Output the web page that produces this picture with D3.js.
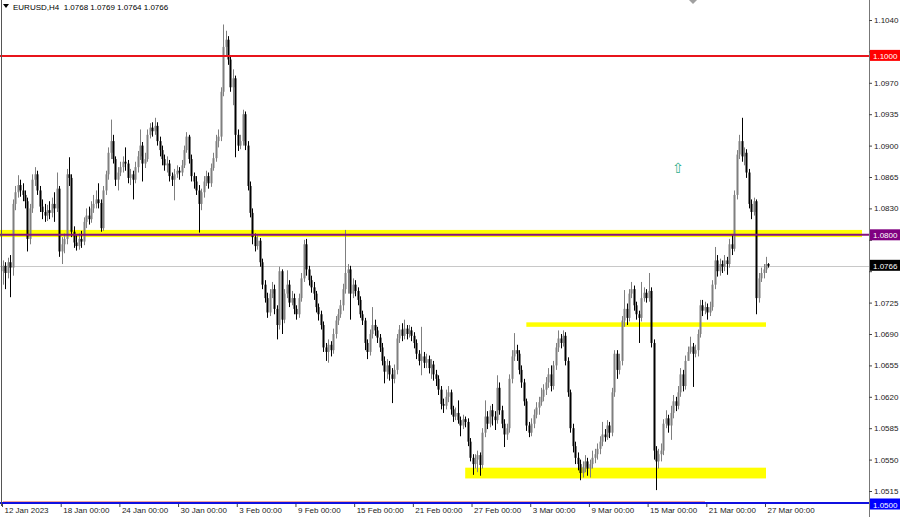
<!DOCTYPE html>
<html><head><meta charset="utf-8">
<script src="https://cdn.jsdelivr.net/npm/d3@7"></script>
<style>
html,body{margin:0;padding:0;background:#fff;}
svg{display:block;font-family:"Liberation Sans",Arial,sans-serif;}
</style></head>
<body><svg id="c" width="900" height="517"></svg>
<script>
const symbolTitle = "EURUSD,H4  1.0768 1.0769 1.0764 1.0766";

const open = [
1.0760,1.0766,1.0758,1.0770,1.0764,1.0835,1.0848,1.0856,1.0850,1.0845,
1.0838,1.0796,1.0830,1.0862,1.0868,1.0850,1.0832,1.0826,1.0822,1.0828,
1.0825,1.0835,1.0830,1.0852,1.0782,1.0790,1.0796,1.0868,1.0864,1.0804,
1.0792,1.0788,1.0796,1.0793,1.0815,1.0822,1.0818,1.0830,1.0835,1.0840,
1.0836,1.0808,1.0850,1.0868,1.0892,1.0905,1.0885,1.0862,1.0870,1.0876,
1.0882,1.0880,1.0864,1.0868,1.0862,1.0876,1.0888,1.0900,1.0880,1.0885,
1.0912,1.0920,1.0916,1.0922,1.0905,1.0895,1.0885,1.0878,1.0880,1.0866,
1.0862,1.0868,1.0872,1.0870,1.0878,1.0895,1.0910,1.0885,1.0866,1.0860,
1.0850,1.0835,1.0848,1.0860,1.0866,1.0858,1.0875,1.0886,1.0905,1.0910,
1.0960,1.1010,1.1018,1.0996,1.0965,1.0975,1.0912,1.0900,1.0905,1.0935,
1.0900,1.0855,1.0825,1.0798,1.0788,1.0794,1.0770,1.0745,1.0730,1.0714,
1.0735,1.0740,1.0718,1.0700,1.0760,1.0706,1.0735,1.0745,1.0725,1.0730,
1.0718,1.0712,1.0730,1.0752,1.0790,1.0762,1.0750,1.0742,1.0735,1.0720,
1.0712,1.0700,1.0675,1.0670,1.0678,1.0672,1.0690,1.0705,1.0712,1.0722,
1.0740,1.0758,1.0762,1.0735,1.0745,1.0738,1.0728,1.0712,1.0705,1.0680,
1.0670,1.0690,1.0700,1.0694,1.0686,1.0675,1.0660,1.0648,1.0655,1.0645,
1.0640,1.0650,1.0685,1.0695,1.0688,1.0696,1.0690,1.0694,1.0688,1.0680,
1.0668,1.0660,1.0665,1.0658,1.0662,1.0652,1.0656,1.0645,1.0640,1.0628,
1.0612,1.0610,1.0620,1.0625,1.0606,1.0598,1.0602,1.0594,1.0588,1.0595,
1.0592,1.0570,1.0552,1.0545,1.0550,1.0555,1.0544,1.0580,1.0598,1.0590,
1.0605,1.0598,1.0594,1.0630,1.0605,1.0590,1.0578,1.0585,1.0640,1.0665,
1.0672,1.0668,1.0650,1.0636,1.0615,1.0588,1.0580,1.0590,1.0600,1.0608,
1.0614,1.0620,1.0628,1.0636,1.0645,1.0632,1.0655,1.0675,1.0685,1.0680,
1.0688,1.0660,1.0625,1.0585,1.0565,1.0552,1.0545,1.0535,1.0542,1.0548,
1.0540,1.0545,1.0552,1.0556,1.0562,1.0570,1.0578,1.0575,1.0588,1.0580,
1.0625,1.0668,1.0650,1.0660,1.0705,1.0718,1.0708,1.0735,1.0740,1.0722,
1.0712,1.0708,1.0730,1.0736,1.0730,1.0738,1.0680,1.0560,1.0548,1.0556,
1.0560,1.0590,1.0596,1.0588,1.0602,1.0615,1.0610,1.0625,1.0645,1.0632,
1.0660,1.0670,1.0676,1.0668,1.0672,1.0690,1.0722,1.0716,1.0720,1.0714,
1.0720,1.0745,1.0772,1.0760,1.0768,1.0765,1.0772,1.0768,1.0790,1.0785,
1.0845,1.0890,1.0905,1.0888,1.0892,1.0870,1.0835,1.0826,1.0838,1.0730,
1.0752,1.0758,1.0762,1.0768];

const high = [
1.0772,1.0770,1.0775,1.0778,1.0840,1.0855,1.0867,1.0862,1.0858,1.0850,
1.0842,1.0835,1.0868,1.0876,1.0872,1.0855,1.0840,1.0835,1.0834,1.0838,
1.0842,1.0848,1.0870,1.0855,1.0798,1.0802,1.0874,1.0887,1.0868,1.0810,
1.0800,1.0802,1.0805,1.0820,1.0830,1.0832,1.0838,1.0845,1.0850,1.0858,
1.0840,1.0855,1.0872,1.0898,1.0929,1.0912,1.0888,1.0876,1.0882,1.0888,
1.0898,1.0884,1.0874,1.0872,1.0882,1.0894,1.0918,1.0904,1.0892,1.0918,
1.0925,1.0926,1.0931,1.0926,1.0910,1.0900,1.0890,1.0888,1.0884,1.0870,
1.0874,1.0878,1.0876,1.0884,1.0900,1.0915,1.0912,1.0890,1.0870,1.0866,
1.0856,1.0852,1.0866,1.0872,1.0870,1.0880,1.0892,1.0912,1.0918,1.0965,
1.1035,1.1028,1.1022,1.1000,1.0985,1.0978,1.0918,1.0912,1.0940,1.0938,
1.0905,1.0860,1.0830,1.0802,1.0800,1.0797,1.0774,1.0750,1.0736,1.0740,
1.0748,1.0745,1.0722,1.0765,1.0762,1.0740,1.0761,1.0750,1.0738,1.0735,
1.0722,1.0735,1.0758,1.0795,1.0796,1.0766,1.0755,1.0748,1.0738,1.0724,
1.0716,1.0704,1.0680,1.0684,1.0682,1.0696,1.0710,1.0718,1.0728,1.0746,
1.0806,1.0768,1.0766,1.0752,1.0750,1.0742,1.0732,1.0716,1.0708,1.0684,
1.0695,1.0720,1.0706,1.0698,1.0690,1.0680,1.0665,1.0662,1.0660,1.0652,
1.0656,1.0690,1.0700,1.0702,1.0706,1.0700,1.0700,1.0698,1.0692,1.0684,
1.0672,1.0698,1.0670,1.0668,1.0666,1.0662,1.0660,1.0650,1.0644,1.0632,
1.0618,1.0628,1.0632,1.0628,1.0610,1.0608,1.0616,1.0598,1.0600,1.0598,
1.0596,1.0574,1.0556,1.0556,1.0560,1.0558,1.0585,1.0616,1.0604,1.0610,
1.0612,1.0604,1.0644,1.0636,1.0610,1.0595,1.0590,1.0645,1.0672,1.0691,
1.0678,1.0672,1.0655,1.0640,1.0618,1.0592,1.0596,1.0606,1.0614,1.0620,
1.0630,1.0634,1.0642,1.0652,1.0655,1.0660,1.0680,1.0694,1.0690,1.0694,
1.0692,1.0664,1.0628,1.0590,1.0570,1.0558,1.0550,1.0548,1.0555,1.0552,
1.0550,1.0560,1.0562,1.0568,1.0576,1.0592,1.0584,1.0594,1.0592,1.0630,
1.0672,1.0672,1.0668,1.0710,1.0739,1.0724,1.0740,1.0748,1.0744,1.0726,
1.0716,1.0748,1.0742,1.0740,1.0758,1.0742,1.0684,1.0565,1.0562,1.0568,
1.0595,1.0605,1.0600,1.0610,1.0622,1.0620,1.0632,1.0652,1.0650,1.0666,
1.0676,1.0687,1.0680,1.0678,1.0695,1.0728,1.0728,1.0726,1.0724,1.0726,
1.0750,1.0787,1.0778,1.0774,1.0772,1.0778,1.0776,1.0796,1.0800,1.0850,
1.0895,1.0912,1.0931,1.0898,1.0896,1.0874,1.0840,1.0842,1.0840,1.0758,
1.0764,1.0768,1.0776,1.0769];

const low = [
1.0745,1.0740,1.0752,1.0731,1.0755,1.0828,1.0842,1.0843,1.0838,1.0830,
1.0782,1.0790,1.0825,1.0855,1.0845,1.0826,1.0818,1.0815,1.0816,1.0818,
1.0820,1.0815,1.0826,1.0776,1.0768,1.0780,1.0790,1.0855,1.0798,1.0786,
1.0783,1.0784,1.0786,1.0789,1.0808,1.0812,1.0814,1.0825,1.0830,1.0830,
1.0804,1.0805,1.0845,1.0862,1.0885,1.0880,1.0855,1.0850,1.0866,1.0870,
1.0872,1.0858,1.0856,1.0840,1.0858,1.0870,1.0884,1.0860,1.0875,1.0882,
1.0908,1.0910,1.0912,1.0900,1.0888,1.0878,1.0872,1.0870,1.0860,1.0855,
1.0839,1.0864,1.0862,1.0866,1.0875,1.0892,1.0880,1.0860,1.0852,1.0845,
1.0803,1.0828,1.0842,1.0855,1.0852,1.0854,1.0872,1.0882,1.0898,1.0905,
1.0955,1.1000,1.0990,1.0960,1.0945,1.0887,1.0894,1.0896,1.0900,1.0895,
1.0850,1.0820,1.0790,1.0782,1.0784,1.0765,1.0740,1.0725,1.0708,1.0710,
1.0730,1.0712,1.0684,1.0695,1.0690,1.0702,1.0730,1.0720,1.0722,1.0712,
1.0706,1.0708,1.0726,1.0748,1.0755,1.0744,1.0736,1.0728,1.0714,1.0705,
1.0695,1.0670,1.0660,1.0658,1.0665,1.0668,1.0685,1.0700,1.0708,1.0716,
1.0735,1.0735,1.0706,1.0730,1.0732,1.0722,1.0708,1.0700,1.0672,1.0662,
1.0666,1.0685,1.0688,1.0680,1.0670,1.0655,1.0635,1.0640,1.0638,1.0613,
1.0635,1.0645,1.0680,1.0682,1.0684,1.0684,1.0686,1.0682,1.0674,1.0662,
1.0655,1.0644,1.0652,1.0652,1.0646,1.0640,1.0638,1.0632,1.0622,1.0606,
1.0602,1.0606,1.0614,1.0600,1.0592,1.0594,1.0590,1.0576,1.0584,1.0586,
1.0565,1.0548,1.0533,1.0540,1.0536,1.0532,1.0540,1.0575,1.0584,1.0586,
1.0588,1.0583,1.0590,1.0600,1.0585,1.0564,1.0572,1.0580,1.0635,1.0660,
1.0660,1.0645,1.0630,1.0610,1.0582,1.0575,1.0576,1.0585,1.0596,1.0600,
1.0610,1.0615,1.0622,1.0630,1.0626,1.0628,1.0650,1.0670,1.0674,1.0676,
1.0655,1.0620,1.0580,1.0558,1.0545,1.0538,1.0527,1.0530,1.0536,1.0532,
1.0530,1.0540,1.0546,1.0550,1.0556,1.0565,1.0570,1.0572,1.0574,1.0576,
1.0620,1.0640,1.0645,1.0655,1.0698,1.0700,1.0704,1.0730,1.0716,1.0706,
1.0680,1.0704,1.0726,1.0725,1.0726,1.0675,1.0550,1.0516,1.0540,1.0548,
1.0555,1.0585,1.0580,1.0572,1.0596,1.0604,1.0606,1.0620,1.0626,1.0628,
1.0664,1.0668,1.0631,1.0664,1.0665,1.0686,1.0710,1.0712,1.0706,1.0710,
1.0716,1.0740,1.0754,1.0755,1.0758,1.0760,1.0756,1.0764,1.0778,1.0782,
1.0840,1.0885,1.0882,1.0878,1.0864,1.0830,1.0818,1.0822,1.0712,1.0725,
1.0748,1.0752,1.0758,1.0764];

const close = [
1.0766,1.0758,1.0770,1.0764,1.0835,1.0848,1.0856,1.0850,1.0845,1.0838,
1.0796,1.0830,1.0862,1.0868,1.0850,1.0832,1.0826,1.0822,1.0828,1.0825,
1.0835,1.0830,1.0852,1.0782,1.0790,1.0796,1.0868,1.0864,1.0804,1.0792,
1.0788,1.0796,1.0793,1.0815,1.0822,1.0818,1.0830,1.0835,1.0840,1.0836,
1.0808,1.0850,1.0868,1.0892,1.0905,1.0885,1.0862,1.0870,1.0876,1.0882,
1.0880,1.0864,1.0868,1.0862,1.0876,1.0888,1.0900,1.0880,1.0885,1.0912,
1.0920,1.0916,1.0922,1.0905,1.0895,1.0885,1.0878,1.0880,1.0866,1.0862,
1.0868,1.0872,1.0870,1.0878,1.0895,1.0910,1.0885,1.0866,1.0860,1.0850,
1.0835,1.0848,1.0860,1.0866,1.0858,1.0875,1.0886,1.0905,1.0910,1.0960,
1.1010,1.1018,1.0996,1.0965,1.0975,1.0912,1.0900,1.0905,1.0935,1.0900,
1.0855,1.0825,1.0798,1.0788,1.0794,1.0770,1.0745,1.0730,1.0714,1.0735,
1.0740,1.0718,1.0700,1.0760,1.0706,1.0735,1.0745,1.0725,1.0730,1.0718,
1.0712,1.0730,1.0752,1.0790,1.0762,1.0750,1.0742,1.0735,1.0720,1.0712,
1.0700,1.0675,1.0670,1.0678,1.0672,1.0690,1.0705,1.0712,1.0722,1.0740,
1.0758,1.0762,1.0735,1.0745,1.0738,1.0728,1.0712,1.0705,1.0680,1.0670,
1.0690,1.0700,1.0694,1.0686,1.0675,1.0660,1.0648,1.0655,1.0645,1.0640,
1.0650,1.0685,1.0695,1.0688,1.0696,1.0690,1.0694,1.0688,1.0680,1.0668,
1.0660,1.0665,1.0658,1.0662,1.0652,1.0656,1.0645,1.0640,1.0628,1.0612,
1.0610,1.0620,1.0625,1.0606,1.0598,1.0602,1.0594,1.0588,1.0595,1.0592,
1.0570,1.0552,1.0545,1.0550,1.0555,1.0544,1.0580,1.0598,1.0590,1.0605,
1.0598,1.0594,1.0630,1.0605,1.0590,1.0578,1.0585,1.0640,1.0665,1.0672,
1.0668,1.0650,1.0636,1.0615,1.0588,1.0580,1.0590,1.0600,1.0608,1.0614,
1.0620,1.0628,1.0636,1.0645,1.0632,1.0655,1.0675,1.0685,1.0680,1.0688,
1.0660,1.0625,1.0585,1.0565,1.0552,1.0545,1.0535,1.0542,1.0548,1.0540,
1.0545,1.0552,1.0556,1.0562,1.0570,1.0578,1.0575,1.0588,1.0580,1.0625,
1.0668,1.0650,1.0660,1.0705,1.0718,1.0708,1.0735,1.0740,1.0722,1.0712,
1.0708,1.0730,1.0736,1.0730,1.0738,1.0680,1.0560,1.0548,1.0556,1.0560,
1.0590,1.0596,1.0588,1.0602,1.0615,1.0610,1.0625,1.0645,1.0632,1.0660,
1.0670,1.0676,1.0668,1.0672,1.0690,1.0722,1.0716,1.0720,1.0714,1.0720,
1.0745,1.0772,1.0760,1.0768,1.0765,1.0772,1.0768,1.0790,1.0785,1.0845,
1.0890,1.0905,1.0888,1.0892,1.0870,1.0835,1.0826,1.0838,1.0730,1.0752,
1.0758,1.0762,1.0768,1.0766];

const priceTicks = [1.1040,1.1005,1.0970,1.0935,1.0900,1.0865,1.0830,1.0795,1.0760,1.0725,1.0690,1.0655,1.0620,1.0585,1.0550,1.0515];
const timeTickBars = [0,24,48,72,96,120,144,168,192,216,240,264,288,312];
const timeTickLabels = ["12 Jan 2023","18 Jan 00:00","24 Jan 00:00","30 Jan 00:00","3 Feb 00:00","9 Feb 00:00","15 Feb 00:00","21 Feb 00:00","27 Feb 00:00","3 Mar 00:00","9 Mar 00:00","15 Mar 00:00","21 Mar 00:00","27 Mar 00:00"];

// horizontal levels
const resistanceLevel = 1.1000;
const pivotLevel = 1.0800;
const pivotBand = [1.0798, 1.0806];
const bidPrice = 1.0766;
const bottomLevel = 1.0500;
// zones: [fromBar, toBar, priceLow, priceHigh]
const zoneUpper = [214, 312, 1.0698, 1.0703];
const zoneLower = [189, 312, 1.0529, 1.0541];
const arrowMark = {bar: 276, price: 1.0871};

const W = 900, H = 517, plotRight = 869, plotBottom = 504;
const svg = d3.select("#c");
svg.append("rect").attr("width",W).attr("height",H).attr("fill","#fff");

const y = d3.scaleLinear().domain([1.1040, 1.0515]).range([20, 491]);
const step = 2.4455;
const x = d3.scaleLinear().domain([0, 313]).range([3, 3 + 313*step]);

const plot = svg.append("g");
plot.append("clipPath").attr("id","clip").append("rect").attr("x",0).attr("y",0).attr("width",plotRight).attr("height",plotBottom);
const g = plot.append("g").attr("clip-path","url(#clip)");

// bid line
g.append("line").attr("x1",0).attr("x2",plotRight).attr("y1",Math.round(y(bidPrice))+0.5).attr("y2",Math.round(y(bidPrice))+0.5)
  .attr("stroke","#c8c8c8").attr("stroke-width",1);

// pivot yellow band
g.append("rect").attr("x",0).attr("width",862).attr("y",y(pivotBand[1])).attr("height",y(pivotBand[0])-y(pivotBand[1])).attr("fill","#ffff00");
// zones
[zoneUpper, zoneLower].forEach(z=>{
  g.append("rect").attr("x",x(z[0])).attr("width",x(z[1])-x(z[0]))
   .attr("y",y(z[3])).attr("height",y(z[2])-y(z[3])).attr("fill","#ffff00");
});

// candles
const bars = d3.range(close.length).map(i=>({i,o:open[i],h:high[i],l:low[i],c:close[i]}));
const upCol = "#7f7f7f", dnCol = "#000000";
const cg = g.append("g");
cg.selectAll("line.w").data(bars).join("line").attr("class","w")
  .attr("x1",d=>Math.round(x(d.i))+0.5).attr("x2",d=>Math.round(x(d.i))+0.5)
  .attr("y1",d=>y(d.h)).attr("y2",d=>y(d.l))
  .attr("stroke",d=>d.c>=d.o?upCol:dnCol).attr("stroke-width",1);
cg.selectAll("rect.b").data(bars).join("rect").attr("class","b")
  .attr("x",d=>Math.round(x(d.i))-0.5).attr("width",2)
  .attr("y",d=>y(Math.max(d.o,d.c))).attr("height",d=>Math.max(1,Math.abs(y(d.o)-y(d.c))))
  .attr("fill",d=>d.c>=d.o?upCol:dnCol);

// resistance red line
g.append("line").attr("x1",0).attr("x2",plotRight).attr("y1",y(resistanceLevel)).attr("y2",y(resistanceLevel))
  .attr("stroke","#e8141b").attr("stroke-width",2);
// pivot purple line
g.append("line").attr("x1",0).attr("x2",plotRight).attr("y1",y(pivotLevel)-0.5).attr("y2",y(pivotLevel)-0.5)
  .attr("stroke","#86107e").attr("stroke-width",2);
// bottom lines
g.append("line").attr("x1",3).attr("x2",705).attr("y1",501.5).attr("y2",501.5).attr("stroke","#f2a69a").attr("stroke-width",1);
g.append("line").attr("x1",0).attr("x2",plotRight).attr("y1",Math.min(y(bottomLevel),503)).attr("y2",Math.min(y(bottomLevel),503))
  .attr("stroke","#1010e0").attr("stroke-width",2);

// arrow marker
svg.append("text").attr("x",x(arrowMark.bar)).attr("y",y(arrowMark.price)+1).attr("text-anchor","middle")
  .attr("font-family","DejaVu Sans").attr("font-size",14).attr("fill","#2fae8c").text("\u21E7");

// shift triangle at top
svg.append("path").attr("d","M689,0 L697,0 L693,4 Z").attr("fill","#a0a0a0");

// frame
svg.append("line").attr("x1",1.5).attr("x2",1.5).attr("y1",0).attr("y2",plotBottom+2).attr("stroke","#555").attr("stroke-width",1);
svg.append("line").attr("x1",plotRight+0.5).attr("x2",plotRight+0.5).attr("y1",0).attr("y2",H).attr("stroke","#777").attr("stroke-width",1);

// right price axis (ticks hidden under the coloured tags are omitted from text)
const tagged = [1.1005, 1.0795, 1.0760];
const ya = d3.axisRight(y).tickValues(priceTicks).tickFormat(d=>tagged.includes(d)?"":d3.format(".4f")(d)).tickSize(3).tickPadding(2);
const yAxisG = svg.append("g").attr("transform",`translate(${plotRight},0)`).call(ya);
yAxisG.select(".domain").remove();
yAxisG.selectAll("line").attr("stroke","#444");
yAxisG.selectAll("text").attr("font-size",8).attr("fill","#222").attr("font-family","Liberation Sans, Arial, sans-serif");

// bottom time axis
const xa = d3.axisBottom(x).tickValues(timeTickBars).tickFormat((d,i)=>timeTickLabels[i]).tickSize(3);
const xAxisG = svg.append("g").attr("transform",`translate(-1,${plotBottom})`).call(xa);
xAxisG.select(".domain").remove();
xAxisG.selectAll("line").attr("stroke","#444");
xAxisG.selectAll("text").attr("font-size",8).attr("fill","#222").attr("text-anchor","start")
  .attr("dx",2).attr("y",3.5).attr("font-family","Liberation Sans, Arial, sans-serif");

// colored price labels
function tag(price, bg, yy){
  const cy = yy!==undefined?yy:y(price);
  svg.append("rect").attr("x",plotRight+1).attr("y",cy-6).attr("width",31).attr("height",11).attr("fill",bg);
  svg.append("text").attr("x",plotRight+4).attr("y",cy+3).attr("font-size",8).attr("fill","#fff")
    .attr("font-family","Liberation Sans, Arial, sans-serif").text(d3.format(".4f")(price));
}
tag(resistanceLevel,"#ff0000");
tag(pivotLevel,"#800080");
tag(bidPrice,"#000000");
tag(bottomLevel,"#0000ff", 504.5);

// title
svg.append("path").attr("d","M3,4 L9,4 L6,8 Z").attr("fill","#000");
svg.append("text").attr("x",13).attr("y",9.5).attr("font-size",8).attr("fill","#000")
  .attr("font-family","Liberation Sans, Arial, sans-serif").attr("xml:space","preserve").style("white-space","pre").text(symbolTitle);
</script></body></html>
